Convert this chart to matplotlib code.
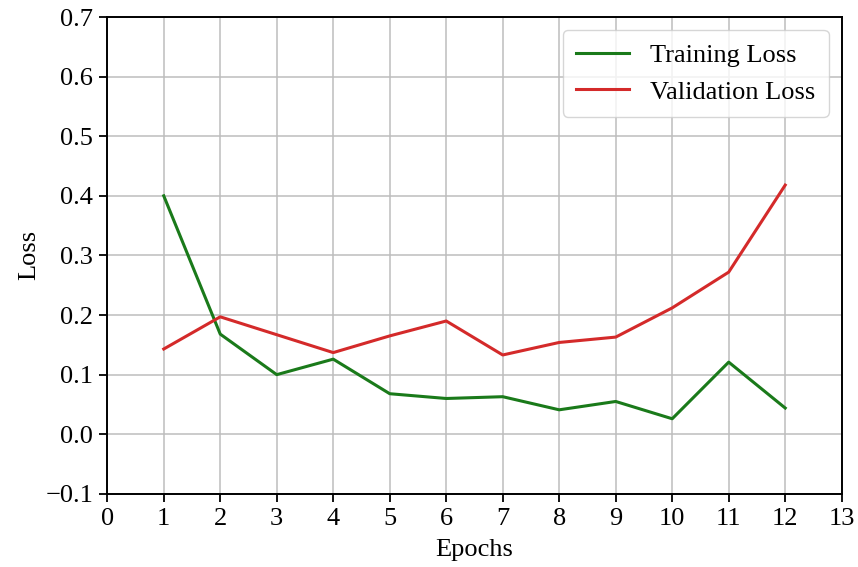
import matplotlib
matplotlib.use("Agg")
import matplotlib.pyplot as plt

# per-epoch loss values
EPOCHS = [1, 2, 3, 4, 5, 6, 7, 8, 9, 10, 11, 12]
TRAIN_LOSS = [0.400, 0.168, 0.100, 0.126, 0.068, 0.060, 0.063, 0.041, 0.055, 0.026, 0.121, 0.044]
VAL_LOSS = [0.143, 0.197, 0.167, 0.137, 0.165, 0.190, 0.133, 0.154, 0.163, 0.212, 0.272, 0.418]

plt.rcParams.update({
    "font.family": ["Liberation Serif", "DejaVu Serif"],
    "font.size": 19,
})

fig = plt.figure(figsize=(8.58, 5.67), dpi=100)
ax = fig.add_axes([0.125, 0.129, 0.856, 0.841])

ax.plot(EPOCHS, TRAIN_LOSS, color="#1a7a1a", lw=2.2, label="Training Loss")
ax.plot(EPOCHS, VAL_LOSS, color="#d42a2a", lw=2.2, label="Validation Loss")

ax.set_xlim(0, 13)
ax.set_ylim(-0.1, 0.7)
ax.set_xticks(range(0, 14))
ax.set_yticks([-0.1, 0.0, 0.1, 0.2, 0.3, 0.4, 0.5, 0.6, 0.7])
ax.set_xlabel("Epochs", labelpad=7)
ax.set_ylabel("Loss", labelpad=4)
ax.grid(True, color="#bdbdbd", lw=1.1)
ax.tick_params(width=1.3, length=6, pad=4)
for s in ax.spines.values():
    s.set_linewidth(1.4)
ax.legend(loc="upper right", fontsize=19, borderaxespad=0.5, borderpad=0.5)

fig.savefig("out.png", dpi=100)
